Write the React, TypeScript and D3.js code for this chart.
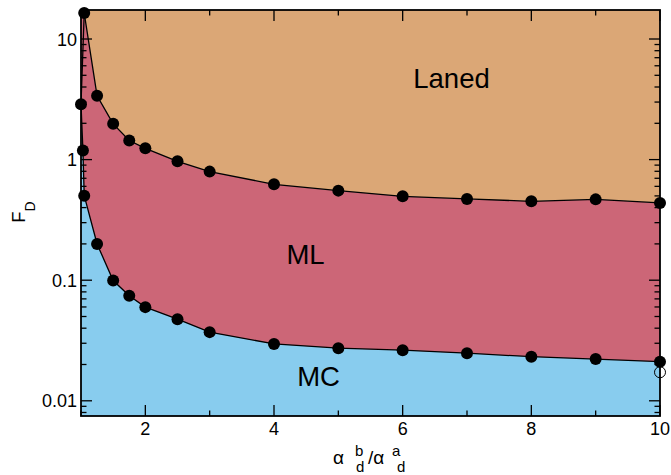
import React from "react";
import * as d3 from "d3";

// Upper boundary (Laned / ML)
const upperX = [1.05, 1.25, 1.5, 1.75, 2, 2.5, 3, 4, 5, 6, 7, 8, 9, 10];
const upperV = [16.4, 3.38, 1.98, 1.44, 1.24, 0.968, 0.795, 0.624, 0.553, 0.496, 0.472, 0.451, 0.468, 0.437];
// Lower boundary (ML / MC)
const lowerX = [1.05, 1.25, 1.5, 1.75, 2, 2.5, 3, 4, 5, 6, 7, 8, 9, 10];
const lowerV = [0.502, 0.1995, 0.0994, 0.0742, 0.0598, 0.0475, 0.0371, 0.0296, 0.0273, 0.0263, 0.0248, 0.0232, 0.0222, 0.0211];
// Points on the left edge
const leftX = [1.0, 1.03];
const leftV = [2.88, 1.19];
// Open symbol
const openX = [10];
const openV = [0.01725];

const xMajorTicks = [2, 4, 6, 8, 10];
const xMinorTicks = [1, 3, 5, 7, 9];
const yMajorTicks = [0.01, 0.1, 1, 10];
const yTickLabels = ["0.01", "0.1", "1", "10"];
const xDomain = [1, 10];
const yDomain = [0.00748, 17.4];

const phaseLabels = ["Laned", "ML", "MC"];
const phaseColors = ["#DBA776", "#CC6677", "#88CCEE"];

const W = 671, H = 475;
const L = 81, R = 660, T = 10, B = 416;

export default function App() {
  const x = d3.scaleLinear().domain(xDomain).range([L, R]);
  const y = d3.scaleLog().domain(yDomain).range([B, T]);

  const upper = upperX.map((v, i) => ({ x: v, v: upperV[i] }));
  const lower = lowerX.map((v, i) => ({ x: v, v: lowerV[i] }));
  const left = leftX.map((v, i) => ({ x: v, v: leftV[i] }));
  const opens = openX.map((v, i) => ({ x: v, v: openV[i] }));

  const line = d3.line<{ x: number; v: number }>().x(d => x(d.x)).y(d => y(d.v));
  const topArea = d3.area<{ x: number; v: number }>().x(d => x(d.x)).y0(T).y1(d => y(d.v));

  const cornerTL = { x: xDomain[0], v: yDomain[1] };
  const pinkPoly = [...upper, ...lower.slice().reverse(), ...left.slice().reverse(), cornerTL];
  const leftLine = [upper[0], ...left, lower[0]];

  const yMinor: number[] = [];
  for (let e = -3; e <= 1; e++) {
    for (let k = 2; k <= 9; k++) {
      const v = k * Math.pow(10, e);
      if (v >= yDomain[0] && v <= yDomain[1]) yMinor.push(v);
    }
  }

  const font = "'Liberation Sans', Arial, sans-serif";
  const allPts = [...upper, ...lower, ...left];

  return (
    <svg width={W} height={H} style={{ position: "absolute", left: 0, top: 0 }} fontFamily={font}>
      <defs>
        <clipPath id="plot">
          <rect x={L} y={T} width={R - L} height={B - T} />
        </clipPath>
      </defs>
      <g clipPath="url(#plot)">
        <rect x={L} y={T} width={R - L} height={B - T} fill={phaseColors[2]} />
        <path d={line(pinkPoly) + "Z"} fill={phaseColors[1]} />
        <path d={topArea(upper) || ""} fill={phaseColors[0]} />
        <path d={line(upper) || ""} fill="none" stroke="#000" strokeWidth={1.3} />
        <path d={line(lower) || ""} fill="none" stroke="#000" strokeWidth={1.3} />
        <path d={line(leftLine) || ""} fill="none" stroke="#000" strokeWidth={1.3} />
      </g>

      {/* ticks */}
      <g stroke="#000" strokeWidth={1.3}>
        {xMajorTicks.map(t => (
          <g key={"xm" + t}>
            <line x1={x(t)} x2={x(t)} y1={B} y2={B - 11} />
            <line x1={x(t)} x2={x(t)} y1={T} y2={T + 11} />
          </g>
        ))}
        {xMinorTicks.map(t => (
          <g key={"xn" + t}>
            <line x1={x(t)} x2={x(t)} y1={B} y2={B - 5.5} />
            <line x1={x(t)} x2={x(t)} y1={T} y2={T + 5.5} />
          </g>
        ))}
        {yMajorTicks.map(t => (
          <g key={"ym" + t}>
            <line x1={L} x2={L + 11} y1={y(t)} y2={y(t)} />
            <line x1={R} x2={R - 11} y1={y(t)} y2={y(t)} />
          </g>
        ))}
        {yMinor.map(t => (
          <g key={"yn" + t}>
            <line x1={L} x2={L + 5.5} y1={y(t)} y2={y(t)} />
            <line x1={R} x2={R - 5.5} y1={y(t)} y2={y(t)} />
          </g>
        ))}
      </g>

      <rect x={L} y={T} width={R - L} height={B - T} fill="none" stroke="#000" strokeWidth={1.8} />

      {/* points */}
      {allPts.map((d, i) => (
        <circle key={"p" + i} cx={x(d.x)} cy={y(d.v)} r={6} fill="#000" />
      ))}
      {opens.map((d, i) => (
        <circle key={"o" + i} cx={x(d.x)} cy={y(d.v)} r={5.5} fill="none" stroke="#000" strokeWidth={1} />
      ))}

      {/* tick labels */}
      {xMajorTicks.map(t => (
        <text key={"xl" + t} x={x(t)} y={435} textAnchor="middle" fontSize={18}>
          {t}
        </text>
      ))}
      {yMajorTicks.map((t, i) => (
        <text key={"yl" + t} x={77} y={y(t) + 6.5} textAnchor="end" fontSize={18}>
          {yTickLabels[i]}
        </text>
      ))}

      {/* phase labels */}
      <text x={451.5} y={87.7} textAnchor="middle" fontSize={27.5}>{phaseLabels[0]}</text>
      <text x={305.5} y={264.3} textAnchor="middle" fontSize={27.5}>{phaseLabels[1]}</text>
      <text x={318.6} y={386} textAnchor="middle" fontSize={27.5}>{phaseLabels[2]}</text>

      {/* y axis title */}
      <g transform="translate(25,222.7) rotate(-90)">
        <text x={0} y={0} fontSize={18.5}>
          F<tspan fontSize={14} dy={10}>D</tspan>
        </text>
      </g>

      {/* x axis title */}
      <g fontSize={19}>
        <text x={333} y={464}>α</text>
        <text x={355} y={456} fontSize={15}>b</text>
        <text x={356} y={472} fontSize={15}>d</text>
        <text x={368} y={464}>/α</text>
        <text x={392} y={456} fontSize={15}>a</text>
        <text x={397} y={472} fontSize={15}>d</text>
      </g>
    </svg>
  );
}
